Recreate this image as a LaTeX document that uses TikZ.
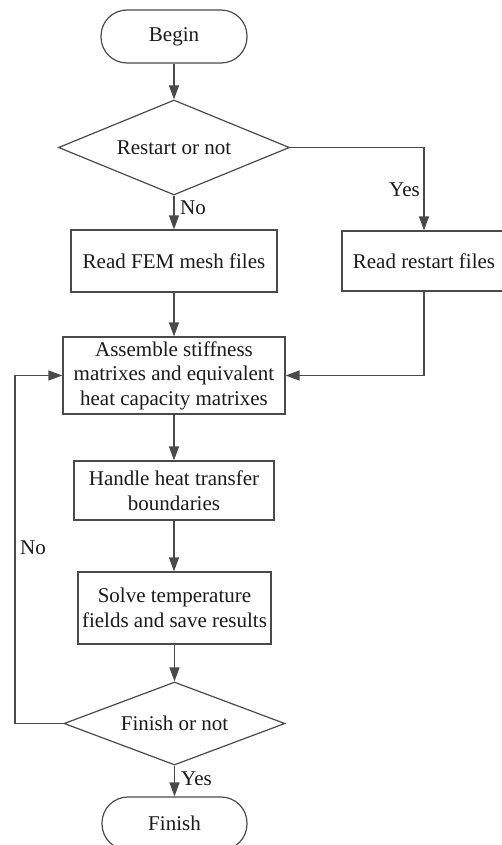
\documentclass[tikz,border=0pt]{standalone}
\usepackage{fontspec}
\setmainfont{Liberation Serif}
\usetikzlibrary{shapes.geometric,arrows.meta}
\definecolor{linec}{HTML}{4A4A4A}
\definecolor{textc}{HTML}{1A1A1A}
\begin{document}
\begin{tikzpicture}[x=1pt,y=-1pt,
  every node/.style={font=\fontsize{21}{24.5}\selectfont, text=textc},
  procbox/.style={draw=linec, line width=1.2pt, rectangle, align=center, inner sep=0pt},
  termbox/.style={draw=linec, line width=1.2pt, rectangle, rounded corners=26pt, inner sep=0pt, minimum width=146pt, minimum height=53pt},
  decbox/.style={draw=linec, line width=1.2pt, diamond, aspect=2.5, inner sep=0pt},
  conn/.style={draw=linec, line width=1.2pt, -{Triangle[length=14pt,width=10pt]}},
  lbl/.style={inner sep=0pt}
]
\useasboundingbox (0,0) rectangle (502,845);
\fill[white] (0,0) rectangle (502,845);
\clip (0,0) rectangle (502,845);

\node[termbox] (begin) at (174,36.5) {Begin};
\node[decbox, minimum width=231pt, minimum height=95pt] (restart) at (174,147.5) {Restart or not};
\node[procbox, minimum width=206pt, minimum height=62pt] (fem) at (174,261) {Read FEM mesh files};
\node[procbox, minimum width=180pt, minimum height=60pt] (rst) at (432,261) {\makebox[164pt]{Read restart files}\hspace*{16pt}};
\node[procbox, minimum width=222pt, minimum height=77pt] (asm) at (174,375.5) {Assemble stiffness\\matrixes and equivalent\\heat capacity matrixes};
\node[procbox, minimum width=200pt, minimum height=59pt] (handle) at (174,490.5) {Handle heat transfer\\boundaries};
\node[procbox, minimum width=193pt, minimum height=72pt] (solve) at (174.5,608) {Solve temperature\\fields and save results};
\node[decbox, minimum width=221pt, minimum height=83pt] (fin) at (174.5,723.5) {Finish or not};
\node[termbox, minimum width=145pt] (finish) at (174.5,823.5) {Finish};

\coordinate (rc) at (424,147.5);
\coordinate (ra) at (424,375.5);
\coordinate (l1) at (15,723.5);
\coordinate (l2) at (15,375.5);

\draw[conn] (begin) -- (restart);
\draw[conn] (restart.south) -- (fem.north);
\draw[conn] (restart.east) -- (rc) -- (rc |- rst.north);
\draw[conn] (fem.south) -- (asm.north);
\draw[conn] (ra |- rst.south) -- (ra) -- (asm.east);
\draw[conn] (asm.south) -- (handle.north);
\draw[conn] (handle.south) -- (handle.south |- solve.north);
\draw[conn] (solve.south) -- (fin.north);
\draw[conn] (fin.west) -- (l1) -- (l2) -- (asm.west);
\draw[conn] (fin.south) -- (finish.north);

\node[lbl, anchor=west] (lno1) at (180,208) {No};
\node[lbl, anchor=east] (lyes1) at (420,190) {Yes};
\node[lbl, anchor=west] (lno2) at (20,548) {No};
\node[lbl, anchor=west] (lyes2) at (181,779) {Yes};
\end{tikzpicture}
\end{document}
